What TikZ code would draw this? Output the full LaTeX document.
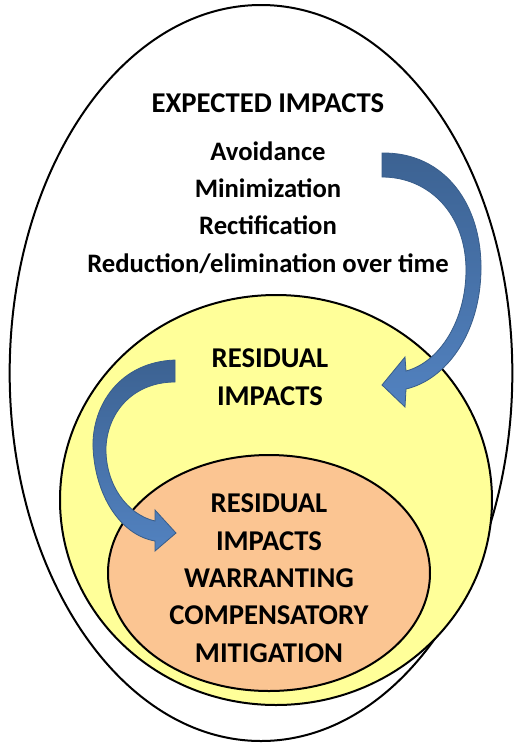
\documentclass[tikz,border=0pt]{standalone}
\usepackage{fontspec}
\setmainfont{Carlito}
\usetikzlibrary{shapes.geometric}
\begin{document}
\begin{tikzpicture}[x=0.75pt,y=-0.75pt,
  ring/.style={ellipse,draw=black,line width=1.5pt,inner sep=0pt},
  lbl/.style={font=\fontsize{20}{24}\selectfont\bfseries,inner sep=0pt,anchor=base},
  caps/.style={lbl,font=\fontsize{21.5}{26}\selectfont\bfseries},
  bluearrow/.style={draw=arredge,line width=0.6pt,top color=arrtop,bottom color=arrbot}
]
\definecolor{yel}{RGB}{255,255,153}
\definecolor{ora}{RGB}{251,197,146}
\definecolor{arrtop}{RGB}{60,98,146}
\definecolor{arrbot}{RGB}{82,130,192}
\definecolor{arredge}{RGB}{56,93,138}
\useasboundingbox (0,0) rectangle (517,744);
\node[ring,fill=white,minimum width=377pt,minimum height=552pt] (outer) at (261,373) {};
\node[ring,fill=yel,minimum width=324pt,minimum height=307.5pt] (resid) at (276,500) {};
\node[ring,fill=ora,minimum width=241.5pt,minimum height=177pt] (warr) at (269,573) {};
% text
\node[caps] (t1) at (268,112) {EXPECTED IMPACTS};
\node[lbl] (t2) at (268,160) {Avoidance};
\node[lbl] (t3) at (268,197) {Minimization};
\node[lbl] (t4) at (268,234) {Rectification};
\node[lbl] (t5) at (268,272) {Reduction/elimination over time};
\node[caps] (r1) at (270,367) {RESIDUAL};
\node[caps] (r2) at (270,405) {IMPACTS};
\node[caps] (w1) at (269,512) {RESIDUAL};
\node[caps] (w2) at (269,550) {IMPACTS};
\node[caps] (w3) at (269,587) {WARRANTING};
\node[caps] (w4) at (269,624) {COMPENSATORY};
\node[caps] (w5) at (269,662) {MITIGATION};
% arrows
\path[bluearrow] (382,153) .. controls (445,152) and (482,205) .. (481,270)
  .. controls (480,335) and (445,380) .. (406,389) -- (405,407) -- (382,385)
  -- (405,357) -- (406,371) .. controls (440,362) and (466,320) .. (466,270)
  .. controls (466,215) and (430,177) .. (382,177) -- cycle;
\path[bluearrow] (175,360) .. controls (120,362) and (92,405) .. (93,447)
  .. controls (95,495) and (120,535) .. (155,541) -- (155,551) -- (176,533)
  -- (155,510) -- (155,521) .. controls (128,515) and (105,485) .. (106,447)
  .. controls (108,410) and (135,382) .. (175,382) -- cycle;
\end{tikzpicture}
\end{document}
